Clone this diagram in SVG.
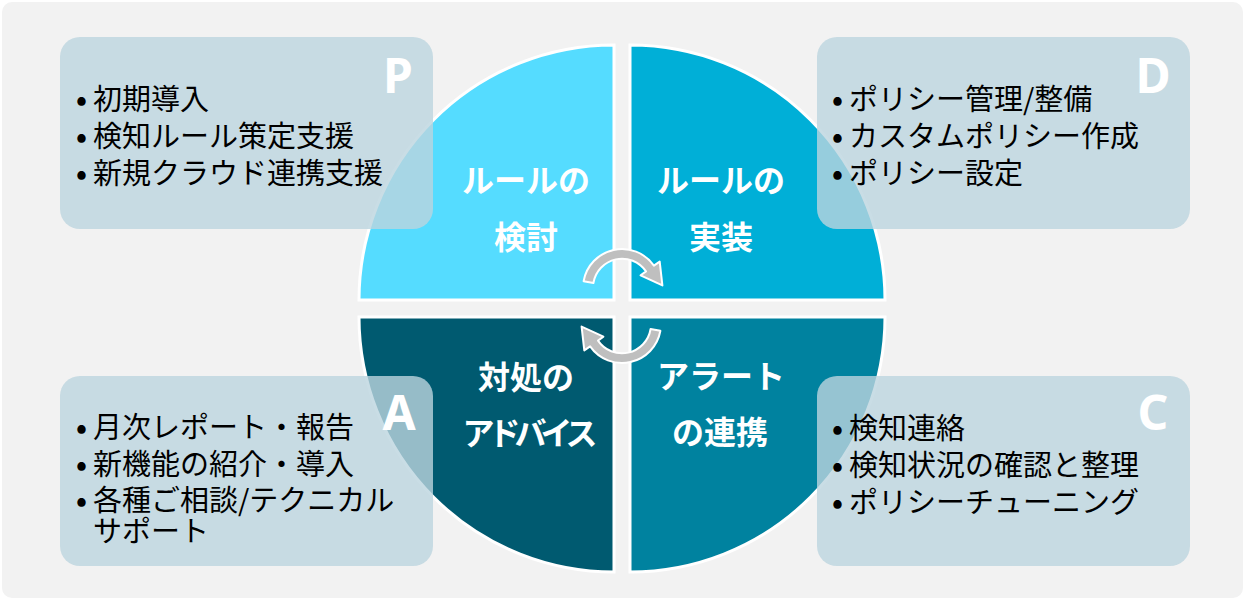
<svg xmlns="http://www.w3.org/2000/svg" width="1245" height="608" viewBox="0 0 1245 608">
<style>
.q{stroke:#fff;stroke-width:3}
.box{fill:#bcd5de;fill-opacity:0.8}
.lbl{font-family:"Noto Sans CJK JP",sans-serif;font-weight:bold;font-size:32px;fill:#fff;text-anchor:middle}
.let{font-family:"Noto Sans","Liberation Sans",sans-serif;font-weight:bold;font-size:48px;fill:#fff;text-anchor:middle}
.itm{font-family:"Noto Sans CJK JP",sans-serif;font-size:29px;fill:#000}
.b{font-weight:bold}
.arr{fill:#bfbfbf;stroke:#fff;stroke-width:2;stroke-linejoin:round}
</style>
<rect x="0" y="0" width="1245" height="608" fill="#fff"/>
<rect x="2" y="2" width="1241" height="596" rx="10" fill="#f2f2f2"/>
<g id="quad-plan">
<path class="q" fill="#55dcff" d="M614,300 L359,300 A255,255 0 0 1 614,45 Z"/>
<text class="lbl" x="526" y="192">ルールの</text>
<text class="lbl" x="526" y="249">検討</text>
</g>
<g id="quad-do">
<path class="q" fill="#00afd7" d="M630,300 L630,45 A255,255 0 0 1 885,300 Z"/>
<text class="lbl" x="721" y="192">ルールの</text>
<text class="lbl" x="721" y="249">実装</text>
</g>
<g id="quad-check">
<path class="q" fill="#00829f" d="M630,317 L885,317 A255,255 0 0 1 630,572 Z"/>
<text class="lbl" x="721" y="388">アラート</text>
<text class="lbl" x="720" y="444">の連携</text>
</g>
<g id="quad-act">
<path class="q" fill="#005a70" d="M614,317 L614,572 A255,255 0 0 1 359,317 Z"/>
<text class="lbl" x="526" y="389">対処の</text>
<text class="lbl" x="527" y="445" letter-spacing="-6">アドバイス</text>
</g>
<g id="connectors">
<path class="arr" d="M583.6,281.2 A39,39 0 0 1 653.9,265.6 L659.7,261.6 L662.4,285.4 L640.6,275.3 L646.0,271.4 A29,29 0 0 0 593.4,283.0 Z"/>
<path class="arr" transform="rotate(180 622 306)" d="M583.6,281.2 A39,39 0 0 1 653.9,265.6 L659.7,261.6 L662.4,285.4 L640.6,275.3 L646.0,271.4 A29,29 0 0 0 593.4,283.0 Z"/>
</g>
<g id="box-p">
<rect class="box" x="60" y="37" width="373" height="192" rx="20"/>
<text class="let" x="398" y="93">P</text>
<text class="itm" x="76" y="110"><tspan class="b">•</tspan><tspan x="93">初期導入</tspan></text>
<text class="itm" x="76" y="147"><tspan class="b">•</tspan><tspan x="93">検知ルール策定支援</tspan></text>
<text class="itm" x="76" y="184"><tspan class="b">•</tspan><tspan x="93">新規クラウド連携支援</tspan></text>
</g>
<g id="box-d">
<rect class="box" x="817" y="37" width="373" height="192" rx="20"/>
<text class="let" x="1153" y="93">D</text>
<text class="itm" x="832" y="110"><tspan class="b">•</tspan><tspan x="849">ポリシー管理/整備</tspan></text>
<text class="itm" x="832" y="147"><tspan class="b">•</tspan><tspan x="849">カスタムポリシー作成</tspan></text>
<text class="itm" x="832" y="184"><tspan class="b">•</tspan><tspan x="849">ポリシー設定</tspan></text>
</g>
<g id="box-a">
<rect class="box" x="60" y="376" width="373" height="190" rx="20"/>
<text class="let" x="399" y="430">A</text>
<text class="itm" x="76" y="438"><tspan class="b">•</tspan><tspan x="93">月次レポート・報告</tspan></text>
<text class="itm" x="76" y="475"><tspan class="b">•</tspan><tspan x="93">新機能の紹介・導入</tspan></text>
<text class="itm" x="76" y="511"><tspan class="b">•</tspan><tspan x="93">各種ご相談/テクニカル</tspan></text>
<text class="itm" x="93" y="542">サポート</text>
</g>
<g id="box-c">
<rect class="box" x="817" y="376" width="373" height="190" rx="20"/>
<text class="let" x="1153" y="430">C</text>
<text class="itm" x="832" y="439"><tspan class="b">•</tspan><tspan x="849">検知連絡</tspan></text>
<text class="itm" x="832" y="476"><tspan class="b">•</tspan><tspan x="849">検知状況の確認と整理</tspan></text>
<text class="itm" x="832" y="513"><tspan class="b">•</tspan><tspan x="849">ポリシーチューニング</tspan></text>
</g>
</svg>
